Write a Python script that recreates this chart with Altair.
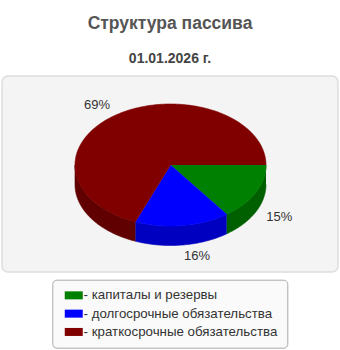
import math
import altair as alt
import pandas as pd

# ---- data ----
categories = ["капиталы и резервы", "долгосрочные обязательства", "краткосрочные обязательства"]
shares = [15, 16, 69]
top_colors = ["#008000", "#0000ff", "#800000"]
side_colors = ["#006000", "#0000c0", "#600000"]
title_text = "Структура пассива"
subtitle_text = "01.01.2026 г."

# ---- geometry (plot-area units, y downward) ----
W, H = 336, 196
CX, CY = 168.5, 89.0
RX, RY, DEPTH = 95.5, 61.0, 19.5
LBL_DX, LBL_DY = 12.0, 11.0


def pt(theta, dy=0.0):
    return CX + RX * math.cos(theta), CY + RY * math.sin(theta) + dy


top_rows, side_rows, label_rows = [], [], []
total = float(sum(shares))
start = 0.0
for cat, v in zip(categories, shares):
    span = 2 * math.pi * v / total
    end = start + span
    n = max(int(math.degrees(span)), 2)
    poly = [(CX, CY)] + [pt(start + span * k / n) for k in range(n + 1)]
    for j, (x, y) in enumerate(poly):
        top_rows.append(dict(cat=cat, x=x, y=y, o=j))
    a, b = max(start, 0.0), min(end, math.pi)
    if a < b:
        m = max(int(math.degrees(b - a)), 2)
        arc = [a + (b - a) * k / m for k in range(m + 1)]
        ring = [pt(t) for t in arc] + [pt(t, DEPTH) for t in reversed(arc)]
        for j, (x, y) in enumerate(ring):
            side_rows.append(dict(cat=cat, x=x, y=y, o=j))
    mid = start + span / 2
    s = math.sin(mid)
    c = math.cos(mid)
    lx = CX + (RX + LBL_DX) * c
    ly = CY + (RY + LBL_DY) * s + (DEPTH if s > 0 else 0.0)
    label_rows.append(dict(cat=cat, x=lx, y=ly, text=f"{v}%", right=c > 0))
    start = end

top_df = pd.DataFrame(top_rows)
side_df = pd.DataFrame(side_rows)
lab_df = pd.DataFrame(label_rows)

xs = alt.X("x:Q", scale=alt.Scale(domain=[0, W], nice=False, zero=False), axis=None)
ys = alt.Y("y:Q", scale=alt.Scale(domain=[0, H], nice=False, zero=False, reverse=True), axis=None)

side = alt.Chart(side_df).mark_line(strokeWidth=0.6, interpolate="linear").encode(
    x=xs, y=ys, order="o:Q", detail="cat:N",
    fill=alt.Fill("cat:N", scale=alt.Scale(domain=categories, range=side_colors), legend=None),
    stroke=alt.Stroke("cat:N", scale=alt.Scale(domain=categories, range=side_colors), legend=None),
)

top = alt.Chart(top_df).mark_line(strokeWidth=0.6, interpolate="linear").encode(
    x=xs, y=ys, order="o:Q", detail="cat:N",
    fill=alt.Fill(
        "cat:N",
        scale=alt.Scale(domain=categories, range=top_colors),
        legend=alt.Legend(
            title=None, orient="none", legendX=50.3, legendY=203.7,
            symbolType="M-0.64,-0.8H2.96V0.8H-0.64Z", symbolSize=100,
            symbolStrokeWidth=0, symbolOpacity=1,
            labelExpr="'- ' + datum.label", labelFont="Liberation Sans",
            labelFontSize=13.3, labelColor="#333333", labelOffset=9, labelLimit=400,
            padding=9, rowPadding=4.3, strokeColor="#aaaaaa", fillColor="#fafafa",
            cornerRadius=4,
        ),
    ),
    stroke=alt.Stroke("cat:N", scale=alt.Scale(domain=categories, range=top_colors), legend=None),
)

lab_r = alt.Chart(lab_df).transform_filter("datum.right").mark_text(
    align="left", baseline="middle", fontSize=13, color="#333333", font="Liberation Sans"
).encode(x=xs, y=ys, text="text:N")
lab_l = alt.Chart(lab_df).transform_filter("!datum.right").mark_text(
    align="right", baseline="middle", fontSize=13, color="#333333", font="Liberation Sans"
).encode(x=xs, y=ys, text="text:N")

chart = alt.layer(side, top, lab_r, lab_l).resolve_scale(
    fill="independent", stroke="independent"
).properties(
    width=W, height=H,
    padding={"left": 2, "top": 76, "right": 2, "bottom": 78},
    autosize=alt.AutoSizeParams(type="none"),
    background="#ffffff",
    title=alt.TitleParams(
        text=title_text, subtitle=subtitle_text, anchor="middle",
        font="Liberation Sans", fontSize=17.5, fontWeight="bold", color="#555555",
        subtitleFont="Liberation Sans", subtitleFontSize=14, subtitleFontWeight="bold",
        subtitleColor="#444444", subtitlePadding=20, offset=10,
    ),
).configure_view(
    fill="#f4f4f4", stroke="#dddddd", strokeWidth=1.5, cornerRadius=6
)

chart.save("out.html", embed_options={"renderer": "svg", "actions": False})
